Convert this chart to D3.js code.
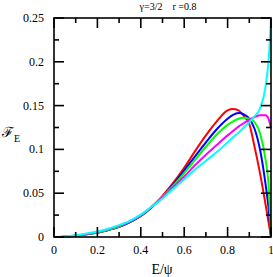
<!DOCTYPE html>
<html><head><meta charset="utf-8">
<script src="https://cdn.jsdelivr.net/npm/d3@7"></script>
<style>body{margin:0;background:#fff}svg{display:block}text{font-family:"Liberation Serif","DejaVu Serif",serif;fill:#000}</style>
</head><body>
<script>
const xGrid = [0,0.05,0.1,0.15,0.2,0.25,0.3,0.35,0.4,0.45,0.5,0.55,0.6,0.65,0.7,0.75,0.8,0.825,0.85,0.875,0.9,0.925,0.95,0.975,0.99,1];
const red     = [0,0.0003,0.0015,0.003,0.005,0.008,0.0115,0.017,0.024,0.034,0.047,0.062,0.079,0.098,0.116,0.132,0.1445,0.146,0.1445,0.138,0.129,0.102,0.072,0.037,0.015,0];
const blue    = [0,0.0003,0.0015,0.003,0.005,0.008,0.0115,0.017,0.024,0.034,0.046,0.060,0.076,0.092,0.108,0.123,0.135,0.1395,0.1415,0.140,0.135,0.123,0.099,0.060,0.030,0];
const green   = [0,0.0003,0.0015,0.0032,0.0052,0.0083,0.012,0.0175,0.0245,0.0345,0.046,0.059,0.073,0.088,0.103,0.117,0.128,0.132,0.135,0.136,0.135,0.131,0.118,0.088,0.055,0];
const magenta = [0,0.0004,0.0017,0.0035,0.0057,0.009,0.013,0.018,0.025,0.0345,0.045,0.057,0.069,0.082,0.094,0.105,0.116,0.121,0.126,0.130,0.134,0.137,0.139,0.139,0.134,0.124];
const cyan    = [0,0.0005,0.002,0.004,0.0062,0.0095,0.0135,0.0185,0.0255,0.0345,0.044,0.055,0.066,0.077,0.087,0.097,0.108,0.114,0.119,0.125,0.131,0.138,0.147,0.172,0.205,0.25];
const seriesNames = ["red","blue","green","magenta","cyan"];
const seriesColors = ["#ff0000","#0000ff","#00ff00","#ff00ff","#00ffff"];
const seriesValues = [red, blue, green, magenta, cyan];
const xTicks = [0,0.2,0.4,0.6,0.8,1];
const xTickLabels = ["0","0.2","0.4","0.6","0.8","1"];
const yTicks = [0,0.05,0.1,0.15,0.2,0.25];
const yTickLabels = ["0","0.05","0.1","0.15","0.2","0.25"];
const xMinor = [0.1,0.3,0.5,0.7,0.9];
const yMinor = [0.025,0.075,0.125,0.175,0.225];
const titleText = "\u03B3=3/2    r =0.8";

const W=273,H=277;
const L=54,R=271,T=18,B=237;
const svg=d3.select("body").append("svg").attr("width",W).attr("height",H);
const x=d3.scaleLinear().domain([0,1]).range([L,R]);
const y=d3.scaleLinear().domain([0,0.25]).range([B,T]);

const line=d3.line().x(d=>x(d[0])).y(d=>y(d[1])).curve(d3.curveMonotoneX);
const plot=svg.append("g");
seriesValues.forEach((vals,i)=>{
  plot.append("path").datum(xGrid.map((xv,j)=>[xv,vals[j]]))
    .attr("d",line).attr("fill","none").attr("stroke",seriesColors[i]).attr("stroke-width",2);
});

const g=svg.append("g").attr("stroke","#000").attr("stroke-width",1.6);
g.append("rect").attr("x",L).attr("y",T).attr("width",R-L).attr("height",B-T).attr("fill","none");
const maj=10,mn=5;
xTicks.concat(xMinor).forEach((t,i)=>{
  const len = i<xTicks.length?maj:mn;
  g.append("line").attr("x1",x(t)).attr("x2",x(t)).attr("y1",B).attr("y2",B-len);
  g.append("line").attr("x1",x(t)).attr("x2",x(t)).attr("y1",T).attr("y2",T+len);
});
yTicks.concat(yMinor).forEach((t,i)=>{
  const len = i<yTicks.length?maj:mn;
  g.append("line").attr("y1",y(t)).attr("y2",y(t)).attr("x1",L).attr("x2",L+len);
  g.append("line").attr("y1",y(t)).attr("y2",y(t)).attr("x1",R).attr("x2",R-len);
});

svg.append("g").selectAll("text").data(xTicks).join("text")
  .attr("x",d=>x(d)).attr("y",254).attr("text-anchor","middle").attr("font-size",12)
  .text((d,i)=>xTickLabels[i]);
svg.append("g").selectAll("text").data(yTicks).join("text")
  .attr("x",44).attr("y",d=>y(d)+4).attr("text-anchor","end").attr("font-size",12)
  .text((d,i)=>yTickLabels[i]);

svg.append("text").attr("x",168).attr("y",10).attr("text-anchor","middle").attr("font-size",10)
  .attr("xml:space","preserve").style("white-space","pre").text(titleText);
svg.append("text").attr("x",162).attr("y",274).attr("text-anchor","middle").attr("font-size",14).text("E/\u03C8");
const yl=svg.append("text").attr("x",2).attr("y",137).attr("font-size",14);
yl.append("tspan").text("\u2131");
yl.append("tspan").attr("font-size",10).attr("dy",5).text("E");
</script>
</body></html>
